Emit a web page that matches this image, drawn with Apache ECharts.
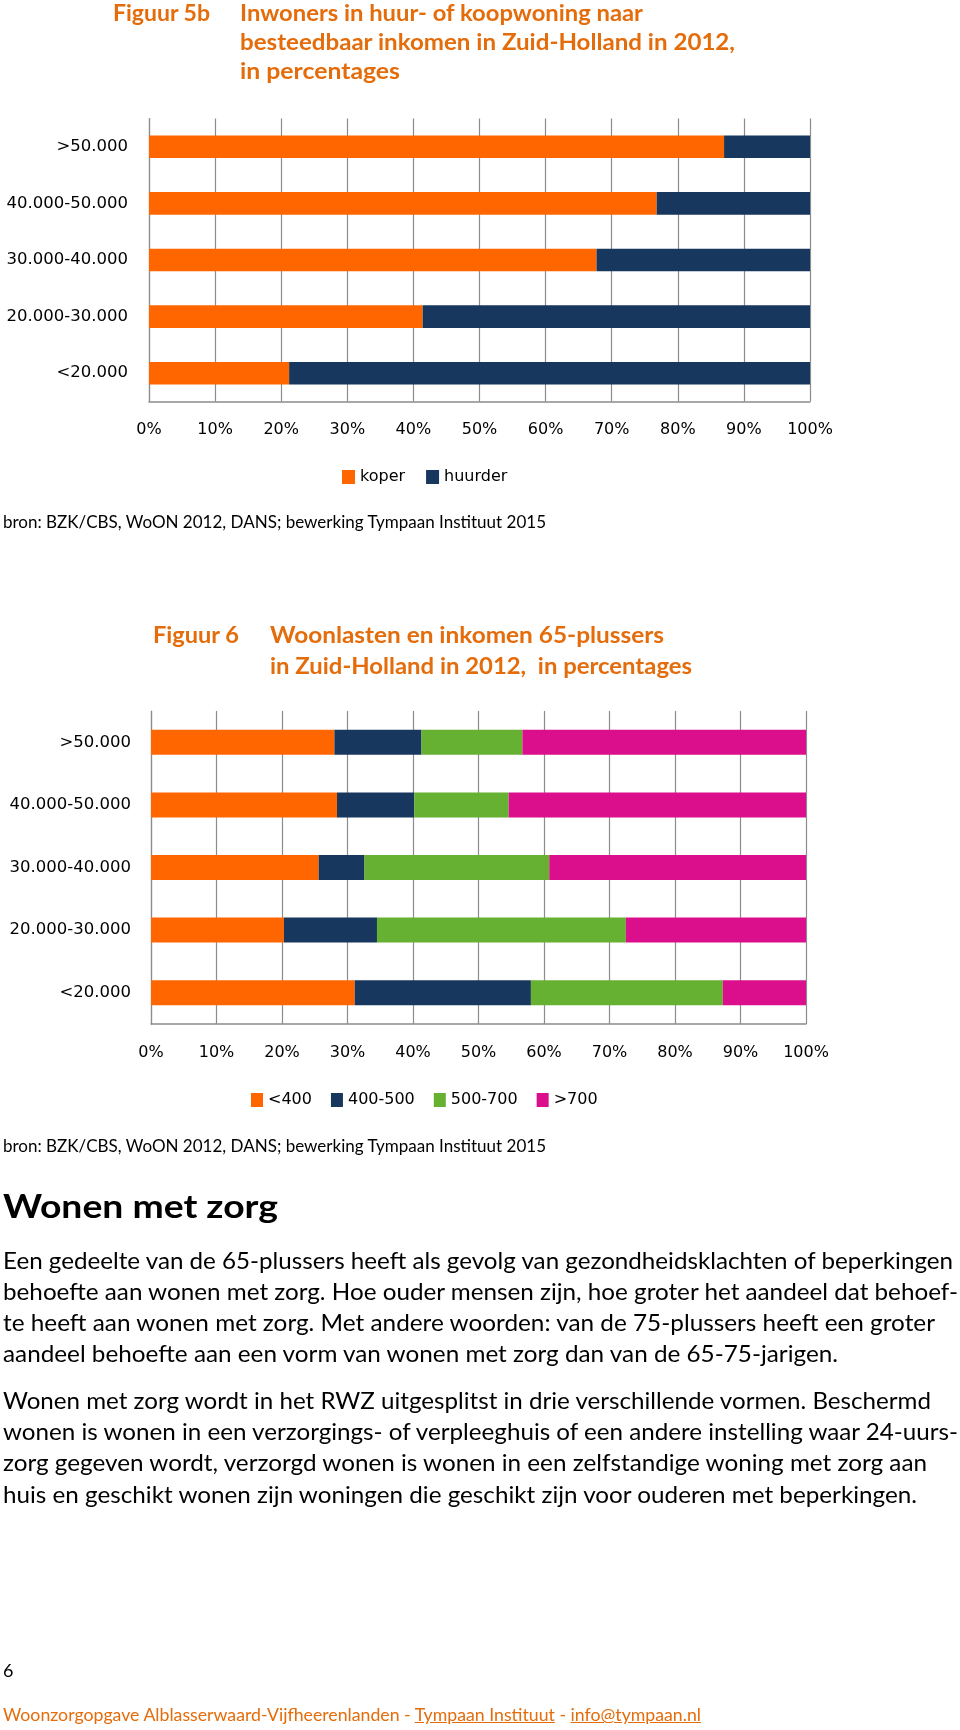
<!DOCTYPE html>
<html>
<head>
<meta charset="utf-8">
<script src="https://cdn.jsdelivr.net/npm/echarts/dist/echarts.min.js"></script>
<style>
html,body{margin:0;padding:0;background:#ffffff;}
#page{position:relative;width:960px;height:1730px;overflow:hidden;background:#fff;}
#chart{position:absolute;left:0;top:0;width:960px;height:1730px;}
.t{position:absolute;white-space:nowrap;transform-origin:0 50%;font-family:Lato,'Open Sans',sans-serif;line-height:1.2;color:#000;}
.or{color:#E46C0A;font-weight:bold;font-size:23px;}
.p{font-size:23px;}
.src{font-size:17px;}
.foot{font-size:18px;color:#E46C0A;}
.foot u{text-decoration:underline;}
</style>
</head>
<body>
<div id="page">
  <div id="chart"></div>

  <div class="t or" style="left:113px;top:-1.5px" data-w="97">Figuur 5b</div>
  <div class="t or" style="left:240px;top:-1.5px" data-w="403">Inwoners in huur- of koopwoning naar</div>
  <div class="t or" style="left:240px;top:27.5px" data-w="495">besteedbaar inkomen in Zuid-Holland in 2012,</div>
  <div class="t or" style="left:240px;top:56.5px" data-w="160">in percentages</div>

  <div class="t src" style="left:3px;top:512px" data-w="543">bron: BZK/CBS, WoON 2012, DANS; bewerking Tympaan Instituut 2015</div>

  <div class="t or" style="left:153px;top:621px" data-w="86">Figuur 6</div>
  <div class="t or" style="left:270px;top:621px" data-w="394">Woonlasten en inkomen 65-plussers</div>
  <div class="t or" style="left:270px;top:651.5px" data-w="422">in Zuid-Holland in 2012,&nbsp; in percentages</div>

  <div class="t src" style="left:3px;top:1135.5px" data-w="543">bron: BZK/CBS, WoON 2012, DANS; bewerking Tympaan Instituut 2015</div>

  <div class="t" style="left:3px;top:1186.5px;font-size:32px;font-weight:bold" data-w="275">Wonen met zorg</div>

  <div class="t p" style="left:3px;top:1246.5px" data-w="950">Een gedeelte van de 65-plussers heeft als gevolg van gezondheidsklachten of beperkingen</div>
  <div class="t p" style="left:3px;top:1277.5px" data-w="955">behoefte aan wonen met zorg. Hoe ouder mensen zijn, hoe groter het aandeel dat behoef-</div>
  <div class="t p" style="left:3px;top:1308.5px" data-w="932">te heeft aan wonen met zorg. Met andere woorden: van de 75-plussers heeft een groter</div>
  <div class="t p" style="left:3px;top:1339.5px" data-w="835">aandeel behoefte aan een vorm van wonen met zorg dan van de 65-75-jarigen.</div>

  <div class="t p" style="left:3px;top:1386.5px" data-w="928">Wonen met zorg wordt in het RWZ uitgesplitst in drie verschillende vormen. Beschermd</div>
  <div class="t p" style="left:3px;top:1417.5px" data-w="955">wonen is wonen in een verzorgings- of verpleeghuis of een andere instelling waar 24-uurs-</div>
  <div class="t p" style="left:3px;top:1448.5px" data-w="924">zorg gegeven wordt, verzorgd wonen is wonen in een zelfstandige woning met zorg aan</div>
  <div class="t p" style="left:3px;top:1480.5px" data-w="914">huis en geschikt wonen zijn woningen die geschikt zijn voor ouderen met beperkingen.</div>

  <div class="t" style="left:3px;top:1660px;font-size:18px">6</div>
  <div class="t foot" style="left:3px;top:1704px" data-w="698">Woonzorgopgave Alblasserwaard-Vijfheerenlanden - <u>Tympaan Instituut</u> - <u>info@tympaan.nl</u></div>
</div>

<script>
// ---- Data ----
const incomeCategories = ['<20.000', '20.000-30.000', '30.000-40.000', '40.000-50.000', '>50.000'];

// Figuur 5b
const tenureNames = ['koper', 'huurder'];
const koperValues   = [21.2, 41.4, 67.7, 76.8, 87.0];
const huurderValues = [78.8, 58.6, 32.3, 23.2, 13.0];

// Figuur 6
const costNames = ['<400', '400-500', '500-700', '>700'];
const costBelow400 = [31.1, 20.3, 25.6, 28.4, 28.0];
const cost400to500 = [26.9, 14.2,  7.0, 11.8, 13.3];
const cost500to700 = [29.3, 38.0, 28.2, 14.4, 15.4];
const costAbove700 = [12.7, 27.5, 39.2, 45.4, 43.3];

const percentMin = 0, percentMax = 100, percentStep = 10;

// ---- Styles ----
const COLORS = { orange: '#FF6600', navy: '#17375E', green: '#66B132', magenta: '#DB0F8B' };
const gridGray = '#8C8C8C';
const labelFont = { fontFamily: 'DejaVu Sans', fontSize: 16, color: '#000' };

function valueAxis(gridIndex, margin) {
  return {
    gridIndex: gridIndex, type: 'value', min: percentMin, max: percentMax, interval: percentStep,
    axisLabel: Object.assign({ formatter: '{value}%', margin: margin }, labelFont),
    axisLine: { show: true, lineStyle: { color: gridGray, width: 1.5 } },
    axisTick: { show: false },
    splitLine: { show: true, lineStyle: { color: gridGray, width: 1.2 } }
  };
}
function catAxis(gridIndex, margin) {
  return {
    gridIndex: gridIndex, type: 'category', data: incomeCategories,
    axisLabel: Object.assign({ margin: margin }, labelFont, { fontSize: 16.5 }),
    axisLine: { show: true, lineStyle: { color: gridGray, width: 1.2 } },
    axisTick: { show: false },
    splitLine: { show: false }
  };
}
function bar(name, data, color, idx, stack) {
  return {
    name: name, type: 'bar', stack: stack, data: data, barWidth: '40%',
    xAxisIndex: idx, yAxisIndex: idx,
    itemStyle: { color: color }, emphasis: { disabled: true }, silent: true
  };
}

const chart = echarts.init(document.getElementById('chart'), null, { renderer: 'canvas' });
chart.setOption({
  animation: false,
  backgroundColor: 'transparent',
  grid: [
    { left: 149, top: 118.5, width: 661, height: 283, containLabel: false, outerBoundsMode: 'none' },
    { left: 151, top: 711, width: 655, height: 313, containLabel: false, outerBoundsMode: 'none' }
  ],
  xAxis: [valueAxis(0, 20), valueAxis(1, 21)],
  yAxis: [catAxis(0, 21), catAxis(1, 20)],
  legend: [
    {
      data: tenureNames, left: 342, top: 469, padding: 0,
      itemWidth: 13, itemHeight: 14, itemGap: 21, icon: 'rect',
      textStyle: Object.assign({}, labelFont), selectedMode: false
    },
    {
      data: costNames, left: 251, top: 1092, padding: 0,
      itemWidth: 12, itemHeight: 14, itemGap: 19, icon: 'rect',
      textStyle: Object.assign({}, labelFont), selectedMode: false
    }
  ],
  series: [
    bar(tenureNames[0], koperValues, COLORS.orange, 0, 'ten'),
    bar(tenureNames[1], huurderValues, COLORS.navy, 0, 'ten'),
    bar(costNames[0], costBelow400, COLORS.orange, 1, 'cost'),
    bar(costNames[1], cost400to500, COLORS.navy, 1, 'cost'),
    bar(costNames[2], cost500to700, COLORS.green, 1, 'cost'),
    bar(costNames[3], costAbove700, COLORS.magenta, 1, 'cost')
  ]
});

// Fit text lines to the widths seen in the reference
function fitText() {
  document.querySelectorAll('[data-w]').forEach(function (el) {
    el.style.transform = 'none';
    const w = el.getBoundingClientRect().width;
    const target = parseFloat(el.dataset.w);
    if (w > 0) el.style.transform = 'scaleX(' + (target / w).toFixed(4) + ')';
  });
}
fitText();
if (document.fonts && document.fonts.ready) document.fonts.ready.then(fitText);
</script>
</body>
</html>
